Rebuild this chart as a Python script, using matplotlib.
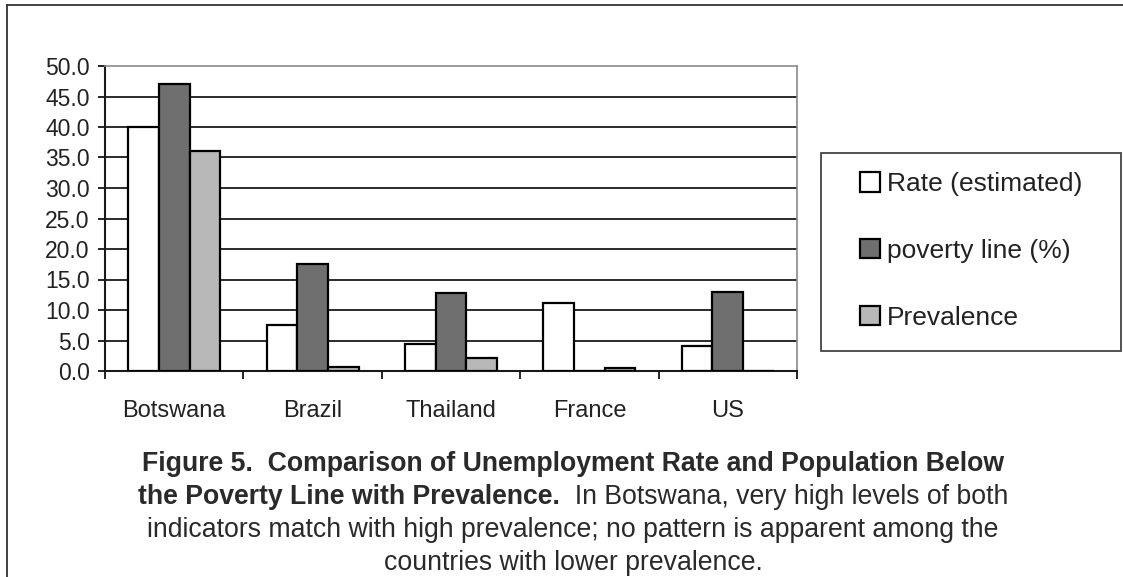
import numpy as np
import matplotlib
matplotlib.use("Agg")
import matplotlib.pyplot as plt
from matplotlib.lines import Line2D
from matplotlib.patches import Rectangle

countries = ["Botswana", "Brazil", "Thailand", "France", "US"]
unemployment = [40.0, 7.5, 4.5, 11.1, 4.1]
poverty = [47.0, 17.6, 12.8, 0.0, 12.9]
prevalence = [36.0, 0.7, 2.2, 0.5, 0.0]
series_names = ["Rate (estimated)", "poverty line (%)", "Prevalence"]
series_colors = ["white", "#6f6f6f", "#b8b8b8"]
yticks = np.arange(0, 55, 5)

plt.rcParams['font.family'] = ['Liberation Sans', 'DejaVu Sans']

W, H = 1123, 577
fig = plt.figure(figsize=(W / 100, H / 100), dpi=100)
ax = fig.add_axes([105 / W, 1 - 371 / H, 692 / W, 305 / H])

x = np.arange(len(countries))
width = 0.222
bars = []
for i, (vals, col) in enumerate(zip([unemployment, poverty, prevalence], series_colors)):
    b = ax.bar(x + (i - 1) * width, vals, width, color=col, edgecolor='black',
               linewidth=1.6, zorder=3, label=series_names[i])
    bars.append(b)

ax.set_xlim(-0.5, len(countries) - 0.5)
ax.set_ylim(0, 50)
ax.set_yticks(yticks)
ax.set_yticklabels(["%.1f" % v for v in yticks], fontsize=16.5, color='#222222')
ax.set_xticks(x)
ax.set_xticklabels(countries, fontsize=17, color='#222222')
ax.tick_params(axis='x', which='major', length=0, pad=21)
ax.set_xticks(np.arange(-0.5, len(countries), 1), minor=True)
ax.tick_params(axis='x', which='minor', length=6, width=1.2, direction='out')
ax.tick_params(axis='y', length=5, width=1.2, direction='out', pad=6)

ax.yaxis.grid(True, color='#1a1a1a', linewidth=1.3, zorder=1)
ax.set_axisbelow(True)
ax.get_ygridlines()[-1].set_visible(False)

for side in ['left', 'bottom']:
    ax.spines[side].set_color('#1a1a1a')
    ax.spines[side].set_linewidth(1.5)
for side in ['top', 'right']:
    ax.spines[side].set_color('#8a8a8a')
    ax.spines[side].set_linewidth(1.2)

# legend box on the right
fig.add_artist(Rectangle((821 / W, 1 - 351 / H), 300 / W, 198 / H,
                         transform=fig.transFigure, fill=False,
                         edgecolor='#444444', linewidth=1.3))
leg = fig.legend(handles=bars, labels=series_names, loc='center',
                 bbox_to_anchor=(971 / W, 1 - 251 / H), frameon=False,
                 fontsize=19, handlelength=0.75, handleheight=0.75,
                 handletextpad=0.25, labelspacing=1.62)
for t in leg.get_texts():
    t.set_color('#222222')

# frame lines round the figure
fig.add_artist(Line2D([7 / W, 7 / W], [0, 1 - 5 / H], transform=fig.transFigure,
                      color='#333333', linewidth=1.3))
fig.add_artist(Line2D([7 / W, 1], [1 - 5 / H, 1 - 5 / H], transform=fig.transFigure,
                      color='#333333', linewidth=1.3))

# caption, four centred lines; the second mixes bold and regular text
cx = 573 / W
cap_size = 19.2
cap_color = '#2a2a2a'
line_y = [464, 497, 530, 563]
fig.text(cx, 1 - line_y[0] / H, "Figure 5.  Comparison of Unemployment Rate and Population Below",
         ha='center', va='center', fontsize=cap_size, fontweight='bold', color=cap_color)

renderer = fig.canvas.get_renderer()
t_bold = fig.text(0, 1 - line_y[1] / H, "the Poverty Line with Prevalence.",
                  ha='left', va='center', fontsize=cap_size, fontweight='bold', color=cap_color)
t_norm = fig.text(0, 1 - line_y[1] / H, "  In Botswana, very high levels of both",
                  ha='left', va='center', fontsize=cap_size, color=cap_color)
wb = t_bold.get_window_extent(renderer).width
wn = t_norm.get_window_extent(renderer).width
x0 = cx * W - (wb + wn) / 2
t_bold.set_x(x0 / W)
t_norm.set_x((x0 + wb) / W)

fig.text(cx, 1 - line_y[2] / H, "indicators match with high prevalence; no pattern is apparent among the",
         ha='center', va='center', fontsize=cap_size, color=cap_color)
fig.text(cx, 1 - line_y[3] / H, "countries with lower prevalence.",
         ha='center', va='center', fontsize=cap_size, color=cap_color)

fig.savefig("out.png", dpi=100, facecolor='white')
